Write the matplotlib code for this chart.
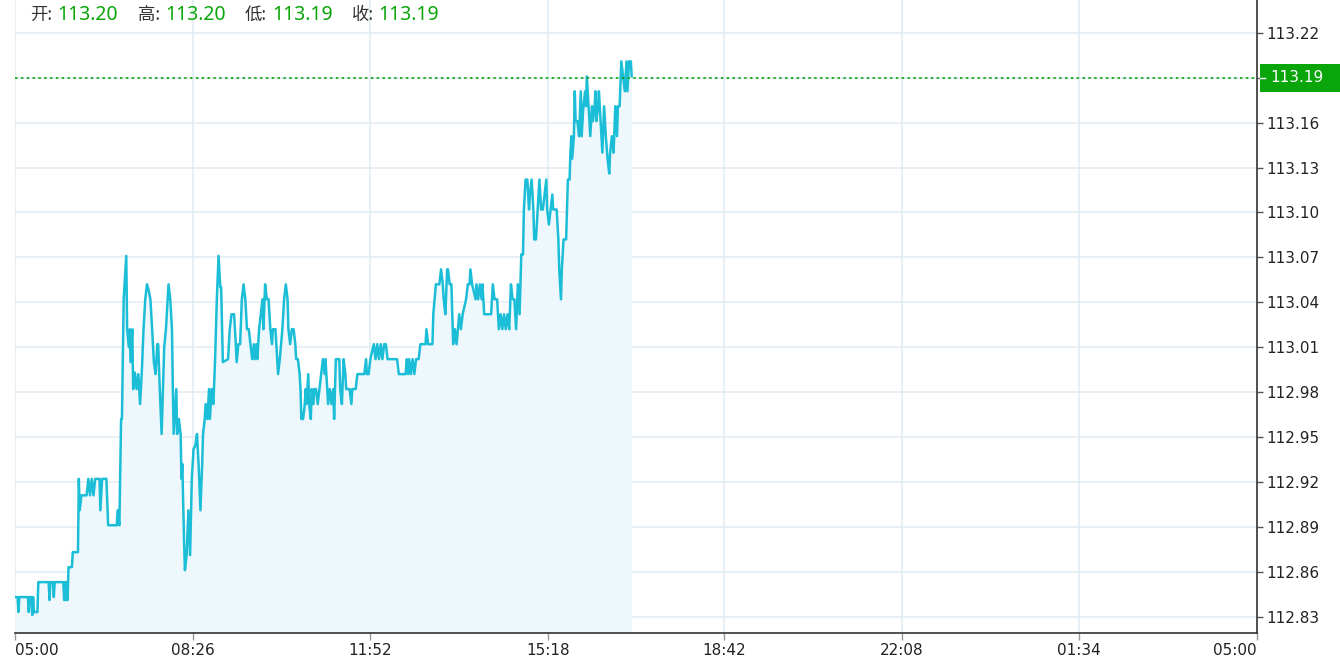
import matplotlib
matplotlib.use('Agg')
import matplotlib.pyplot as plt
from matplotlib.patches import Rectangle
from matplotlib.transforms import blended_transform_factory

# minutes after 05:00
minutes = [
  0, 3, 4, 5, 15, 16, 17, 19, 20, 21,
  22, 26, 27, 39, 40, 41, 44, 45, 46, 56,
  57, 58, 59, 60, 61, 62, 66, 67, 73, 74,
  75, 77, 83, 85, 87, 89, 91, 93, 98, 99,
  101, 106, 108, 118, 119, 121, 123, 124, 126, 129,
  130, 132, 133, 134, 136, 137, 139, 141, 143, 145,
  147, 149, 151, 153, 155, 157, 159, 161, 163, 165,
  166, 168, 170, 172, 173, 175, 178, 180, 182, 183,
  184, 186, 187, 188, 190, 192, 193, 194, 196, 197,
  199, 201, 203, 205, 207, 209, 211, 213, 215, 217,
  218, 220, 221, 223, 225, 226, 228, 230, 232, 234,
  236, 238, 239, 241, 247, 249, 251, 254, 256, 257,
  259, 261, 263, 265, 267, 269, 271, 273, 275, 277,
  278, 280, 281, 283, 285, 287, 288, 290, 292, 294,
  296, 298, 299, 302, 304, 305, 307, 310, 312, 314,
  316, 317, 319, 321, 323, 325, 326, 328, 330, 331,
  332, 334, 336, 337, 338, 340, 341, 343, 344, 346,
  347, 349, 351, 353, 355, 357, 359, 360, 362, 363,
  365, 367, 369, 370, 372, 376, 377, 379, 381, 383,
  384, 388, 390, 391, 395, 397, 405, 407, 408, 410,
  412, 416, 418, 420, 422, 424, 426, 428, 430, 432,
  443, 445, 453, 454, 456, 457, 459, 461, 463, 465,
  468, 470, 476, 477, 479, 484, 485, 488, 492, 494,
  496, 497, 499, 501, 502, 504, 506, 508, 510, 512,
  515, 517, 519, 523, 525, 527, 528, 530, 534, 535,
  537, 539, 541, 542, 544, 552, 554, 556, 559, 561,
  563, 565, 567, 569, 571, 573, 575, 577, 579, 581,
  583, 585, 587, 589, 590, 592, 594, 596, 597, 599,
  601, 602, 604, 606, 608, 610, 612, 614, 616, 617,
  619, 621, 623, 624, 628, 630, 631, 633, 634, 636,
  639, 641, 643, 644, 645, 646, 648, 649, 650, 652,
  654, 656, 657, 659, 661, 662, 663, 665, 666, 667,
  669, 670, 672, 673, 674, 676, 677, 678, 679, 681,
  683, 685, 687, 689, 690, 692, 694, 696, 698, 699,
  701, 703, 705, 707, 709, 710, 712, 714, 715,
]

prices = [
  112.843, 112.843, 112.833, 112.843, 112.843, 112.833, 112.843, 112.843, 112.831, 112.843,
  112.833, 112.833, 112.853, 112.853, 112.841, 112.853, 112.853, 112.843, 112.853, 112.853,
  112.841, 112.853, 112.841, 112.853, 112.841, 112.863, 112.863, 112.873, 112.873, 112.922,
  112.901, 112.911, 112.911, 112.922, 112.911, 112.922, 112.911, 112.922, 112.922, 112.901,
  112.922, 112.922, 112.891, 112.891, 112.901, 112.891, 112.962, 112.962, 113.042, 113.071,
  113.022, 113.010, 113.022, 113.000, 113.022, 112.982, 112.993, 112.982, 112.992, 112.972,
  112.993, 113.022, 113.042, 113.052, 113.048, 113.042, 113.022, 113.000, 112.992, 113.012,
  113.012, 112.980, 112.952, 112.992, 113.010, 113.022, 113.052, 113.042, 113.022, 112.982,
  112.952, 112.972, 112.982, 112.952, 112.962, 112.952, 112.922, 112.932, 112.881, 112.861,
  112.871, 112.901, 112.871, 112.922, 112.942, 112.944, 112.952, 112.930, 112.901, 112.932,
  112.952, 112.962, 112.972, 112.962, 112.982, 112.962, 112.982, 112.972, 113.002, 113.042,
  113.071, 113.050, 113.050, 113.000, 113.002, 113.022, 113.032, 113.032, 113.012, 113.000,
  113.012, 113.012, 113.042, 113.052, 113.042, 113.022, 113.022, 113.012, 113.002, 113.012,
  113.002, 113.012, 113.002, 113.022, 113.032, 113.042, 113.022, 113.052, 113.042, 113.042,
  113.022, 113.012, 113.022, 113.022, 113.002, 112.992, 113.002, 113.022, 113.042, 113.052,
  113.042, 113.022, 113.012, 113.022, 113.022, 113.012, 113.002, 113.002, 112.992, 112.982,
  112.962, 112.962, 112.972, 112.982, 112.972, 112.992, 112.972, 112.962, 112.982, 112.972,
  112.982, 112.982, 112.972, 112.982, 112.992, 113.002, 112.992, 113.002, 112.982, 112.972,
  112.982, 112.972, 112.982, 112.962, 113.002, 113.002, 112.982, 112.972, 113.002, 112.992,
  112.982, 112.982, 112.972, 112.982, 112.982, 112.992, 112.992, 113.002, 112.992, 112.992,
  113.002, 113.012, 113.002, 113.012, 113.002, 113.012, 113.002, 113.012, 113.012, 113.002,
  113.002, 112.992, 112.992, 113.002, 112.992, 113.002, 112.992, 113.002, 112.992, 113.002,
  113.002, 113.012, 113.012, 113.022, 113.012, 113.012, 113.032, 113.052, 113.052, 113.062,
  113.052, 113.042, 113.032, 113.062, 113.062, 113.052, 113.052, 113.012, 113.022, 113.012,
  113.032, 113.022, 113.032, 113.042, 113.052, 113.052, 113.062, 113.052, 113.042, 113.052,
  113.042, 113.052, 113.042, 113.052, 113.032, 113.032, 113.052, 113.042, 113.042, 113.022,
  113.032, 113.022, 113.032, 113.022, 113.032, 113.022, 113.052, 113.042, 113.042, 113.022,
  113.052, 113.032, 113.072, 113.072, 113.102, 113.122, 113.122, 113.102, 113.112, 113.122,
  113.102, 113.082, 113.082, 113.102, 113.122, 113.102, 113.102, 113.112, 113.122, 113.102,
  113.092, 113.102, 113.112, 113.102, 113.102, 113.082, 113.062, 113.042, 113.062, 113.082,
  113.082, 113.122, 113.122, 113.140, 113.151, 113.136, 113.151, 113.181, 113.161, 113.161,
  113.151, 113.181, 113.151, 113.171, 113.181, 113.171, 113.191, 113.171, 113.161, 113.151,
  113.171, 113.161, 113.171, 113.181, 113.161, 113.171, 113.181, 113.171, 113.161, 113.140,
  113.171, 113.151, 113.136, 113.126, 113.140, 113.151, 113.140, 113.171, 113.151, 113.171,
  113.171, 113.201, 113.191, 113.181, 113.201, 113.181, 113.201, 113.201, 113.191,
]

x_tick_minutes = [0, 206, 412, 618, 822, 1028, 1234, 1440]
x_tick_labels = ['05:00', '08:26', '11:52', '15:18', '18:42', '22:08', '01:34', '05:00']
y_ticks = [112.83, 112.86, 112.89, 112.92, 112.95, 112.98, 113.01, 113.04,
           113.07, 113.10, 113.13, 113.16, 113.19, 113.22]

ohlc_names = ['开', '高', '低', '收']
ohlc_values = ['113.20', '113.20', '113.19', '113.19']
last_price = 113.19

LINE = '#1bbdd7'
FILL = '#eef8fc'
GRID = '#e2edf3'
GREEN = '#0aa50a'
CJK = ['Noto Sans CJK SC', 'DejaVu Sans']

W, H = 1340, 660

def main():
  assert len(minutes) == len(prices)
  fig = plt.figure(figsize=(W / 100, H / 100), dpi=100)
  ax = fig.add_axes([15 / W, 27 / H, 1242 / W, 633 / H])

  ymin, ymax = 112.819, 113.242
  ax.set_xlim(0, 1440)
  ax.set_ylim(ymin, ymax)

  ax.fill_between(minutes, prices, ymin, color=FILL, lw=0, zorder=1)
  ax.plot(minutes, prices, color=LINE, lw=1.8, zorder=3)
  ax.axhline(last_price, color=GREEN, lw=1.2, ls=(0, (1.5, 2)), zorder=4)

  ax.set_xticks(x_tick_minutes)
  ax.set_xticklabels(x_tick_labels)
  ax.set_yticks(y_ticks)
  # the last price box covers its own tick label
  ax.set_yticklabels(['' if abs(v - last_price) < 1e-9 else '%.2f' % v for v in y_ticks])
  ax.yaxis.tick_right()
  ax.grid(True, color=GRID, lw=1.2, zorder=0)
  ax.set_axisbelow(True)

  for s in ['top', 'left']:
    ax.spines[s].set_visible(False)
  for s in ['right', 'bottom']:
    ax.spines[s].set_color('#333333')
    ax.spines[s].set_linewidth(1.2)

  ax.tick_params(axis='y', length=4, width=1, color='#555555', pad=3, labelsize=11, labelcolor='#222222')
  ax.tick_params(axis='x', length=5, width=1, color='#999999', pad=2, labelsize=11, labelcolor='#222222')
  labels = ax.get_xticklabels()
  labels[0].set_ha('left')
  labels[-1].set_ha('right')

  # last price marker on the right axis
  trans = blended_transform_factory(ax.transAxes, ax.transData)
  box_h = 28 * (ymax - ymin) / 633
  ax.add_patch(Rectangle((1.0 + 3 / 1242, last_price - box_h / 2), 90 / 1242, box_h,
                         transform=trans, fc=GREEN, ec='none', clip_on=False, zorder=10))
  ax.plot([1.0 + 3 / 1242, 1.0 + 8 / 1242], [last_price, last_price], transform=trans,
          color='white', lw=1, clip_on=False, zorder=11)
  ax.text(1.0 + 13 / 1242, last_price, '%.2f' % last_price, transform=trans, ha='left', va='center',
          color='white', fontsize=11, clip_on=False, zorder=12)

  # header with open / high / low / close
  name_x = [30, 138, 245, 352]
  value_x = [57, 165, 272, 378]
  y = 1 - 15 / H
  for name, value, nx, vx in zip(ohlc_names, ohlc_values, name_x, value_x):
    fig.text(nx / W, y, name + ':', family=CJK, fontsize=12.5, color='#333333', va='center')
    fig.text(vx / W, y, value, family='Noto Sans', fontsize=14, color=GREEN, va='center')

  fig.savefig('out.png', dpi=100)

if __name__ == '__main__':
  main()
